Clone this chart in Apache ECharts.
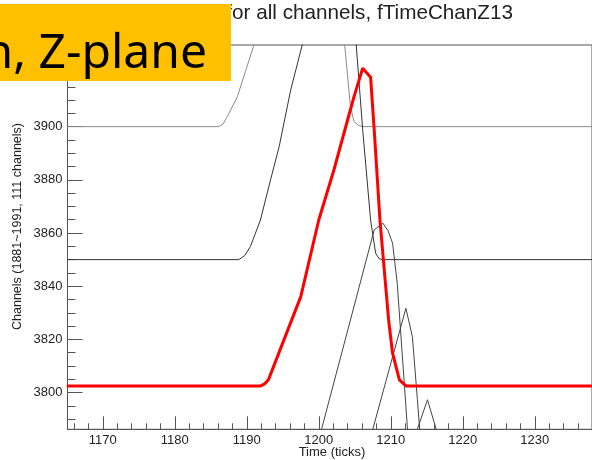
<!DOCTYPE html>
<html><head><meta charset="utf-8">
<script src="https://cdn.jsdelivr.net/npm/echarts@6/dist/echarts.min.js"></script>
<style>html,body{margin:0;padding:0;background:#fff}#c{width:592px;height:460px}</style>
</head><body><div id="c"></div>
<script>
// ---- data (time in ticks, channel) ----
const xTickLabels = [1170, 1180, 1190, 1200, 1210, 1220, 1230];
const yTickLabels = [3800, 3820, 3840, 3860, 3880, 3900, 3920];
const xMinorTicks = [1166,1168,1170,1172,1174,1176,1178,1180,1182,1184,1186,1188,1190,1192,1194,1196,1198,1200,1202,1204,1206,1208,1210,1212,1214,1216,1218,1220,1222,1224,1226,1228,1230,1232,1234,1236];
const yMinorTicks = [3790,3795,3800,3805,3810,3815,3820,3825,3830,3835,3840,3845,3850,3855,3860,3865,3870,3875,3880,3885,3890,3895,3900,3905,3910,3915,3920,3925,3930];

const traceA = [[1165,3900],[1186.1,3900],[1186.7,3901],[1187.3,3903.8],[1188.7,3911.3],[1189.8,3920.7],[1191.0,3930.7],[1193,3950],[1197,3975],[1201,3965],[1203,3947],[1203.6,3930.7],[1204.4,3907.5],[1204.9,3901.9],[1205.5,3900.5],[1206.1,3900],[1240,3900]];
const traceB = [[1165,3850],[1188.9,3850],[1189.7,3851.5],[1190.5,3854.9],[1191.9,3864.9],[1193.3,3880],[1194.5,3892.5],[1196.1,3913.8],[1197.7,3930.7],[1199.5,3960],[1202,3985],[1204.5,3960],[1205.2,3930.7],[1206.1,3898.8],[1207.2,3864.9],[1207.9,3852.4],[1208.4,3850.3],[1208.9,3850],[1240,3850]];
const traceC = [[1165,3750],[1196.8,3750],[1200.4,3786.4],[1204.4,3827.3],[1207.7,3861.2],[1208.9,3863.7],[1209.6,3861],[1210.25,3856.2],[1210.9,3841.1],[1212.3,3787.2],[1213.3,3750],[1240,3750]];
const traceD = [[1165,3750],[1203.9,3750],[1207.5,3786.2],[1212.1,3831.7],[1213.0,3821.1],[1213.7,3797.3],[1214.0,3786.7],[1215,3750],[1240,3750]];
const traceE = [[1165,3750],[1209.1,3750],[1213.7,3786.3],[1215.1,3797.3],[1216.3,3786.3],[1220.2,3750],[1240,3750]];
const traceRed = [[1165,3802.5],[1191.9,3802.5],[1192.5,3803.3],[1193.0,3804.8],[1197.5,3836.1],[1200.0,3864.9],[1202.1,3883.7],[1204.0,3902.5],[1204.9,3911.3],[1206.1,3922],[1207.2,3918.6],[1207.7,3898.8],[1208.5,3864.8],[1209.7,3827.3],[1210.25,3814.8],[1211.2,3804.8],[1212.1,3802.5],[1240,3802.5]];

const titleText = 'for all channels, fTimeChanZ13';
const bannerText = 'n, Z-plane';
const xName = 'Time (ticks)';
const yName = 'Channels (1881~1991, 111 channels)';

const X_MIN = 1165.1, X_MAX = 1237.95, Y_MIN = 3786.2, Y_MAX = 3930.7;
const FONT = '"Liberation Sans", Arial, sans-serif';
const AX = '#555';

const chart = echarts.init(document.getElementById('c'), null, {renderer: 'canvas'});

function thin(data, color) {
  return {type: 'line', data: data, showSymbol: false, symbol: 'none', clip: true,
    lineStyle: {color: color, width: 1}, z: 2, silent: true};
}
const plain = v => String(v);

const option = {
  animation: false,
  grid: {left: 67.5, top: 45, right: 0, height: 384.3, show: true, borderColor: AX, borderWidth: 1, backgroundColor: 'transparent'},
  xAxis: [
    {type: 'value', min: X_MIN, max: X_MAX, position: 'bottom',
     axisLine: {show: true, lineStyle: {color: AX, width: 1}},
     axisTick: {show: true, inside: true, length: 13, customValues: xTickLabels, lineStyle: {color: AX}},
     axisLabel: {show: true, customValues: xTickLabels, formatter: plain, fontSize: 13, fontFamily: FONT, color: '#222', margin: 5},
     splitLine: {show: false}},
    {type: 'value', min: X_MIN, max: X_MAX, position: 'bottom', gridIndex: 0,
     axisLine: {show: false},
     axisTick: {show: true, inside: true, length: 6, customValues: xMinorTicks, lineStyle: {color: AX}},
     axisLabel: {show: false}, splitLine: {show: false}}
  ],
  yAxis: [
    {type: 'value', min: Y_MIN, max: Y_MAX, position: 'left',
     axisLine: {show: true, lineStyle: {color: AX, width: 1}},
     axisTick: {show: true, inside: true, length: 15, customValues: yTickLabels, lineStyle: {color: AX}},
     axisLabel: {show: true, customValues: yTickLabels, formatter: plain, fontSize: 13, fontFamily: FONT, color: '#222', margin: 5},
     splitLine: {show: false}},
    {type: 'value', min: Y_MIN, max: Y_MAX, position: 'left', gridIndex: 0,
     axisLine: {show: false},
     axisTick: {show: true, inside: true, length: 8, customValues: yMinorTicks, lineStyle: {color: AX}},
     axisLabel: {show: false}, splitLine: {show: false}}
  ],
  series: [
    thin(traceA, '#8a8a8a'), thin(traceB, '#333'), thin(traceC, '#444'), thin(traceD, '#444'), thin(traceE, '#444'),
    {type: 'line', data: traceRed, showSymbol: false, symbol: 'none', clip: true,
     lineStyle: {color: '#ff0000', width: 3}, z: 3, silent: true}
  ],
  graphic: [
    {type: 'text', x: 226.3, y: 13.5, z: 10,
     style: {text: titleText, font: '20.7px ' + FONT, fill: '#222', align: 'left', verticalAlign: 'middle', textAlign: 'left', textVerticalAlign: 'middle'}},
    {type: 'rect', z: 20, shape: {x: 0, y: 4, width: 231, height: 77}, style: {fill: '#FFC000'}},
    {type: 'text', x: 207, y: 54, z: 21,
     style: {text: bannerText, font: '48px "Noto Sans", sans-serif', fill: '#000', align: 'right', verticalAlign: 'middle', textAlign: 'right', textVerticalAlign: 'middle'}},
    {type: 'text', x: 332, y: 452, z: 10,
     style: {text: xName, font: '13px ' + FONT, fill: '#222', align: 'center', verticalAlign: 'middle', textAlign: 'center', textVerticalAlign: 'middle'}},
    {type: 'text', x: 18, y: 226.5, rotation: Math.PI / 2, z: 10,
     style: {text: yName, font: '12.5px ' + FONT, fill: '#222', align: 'center', verticalAlign: 'middle', textAlign: 'center', textVerticalAlign: 'middle'}}
  ]
};
chart.setOption(option);
</script>
</body></html>
